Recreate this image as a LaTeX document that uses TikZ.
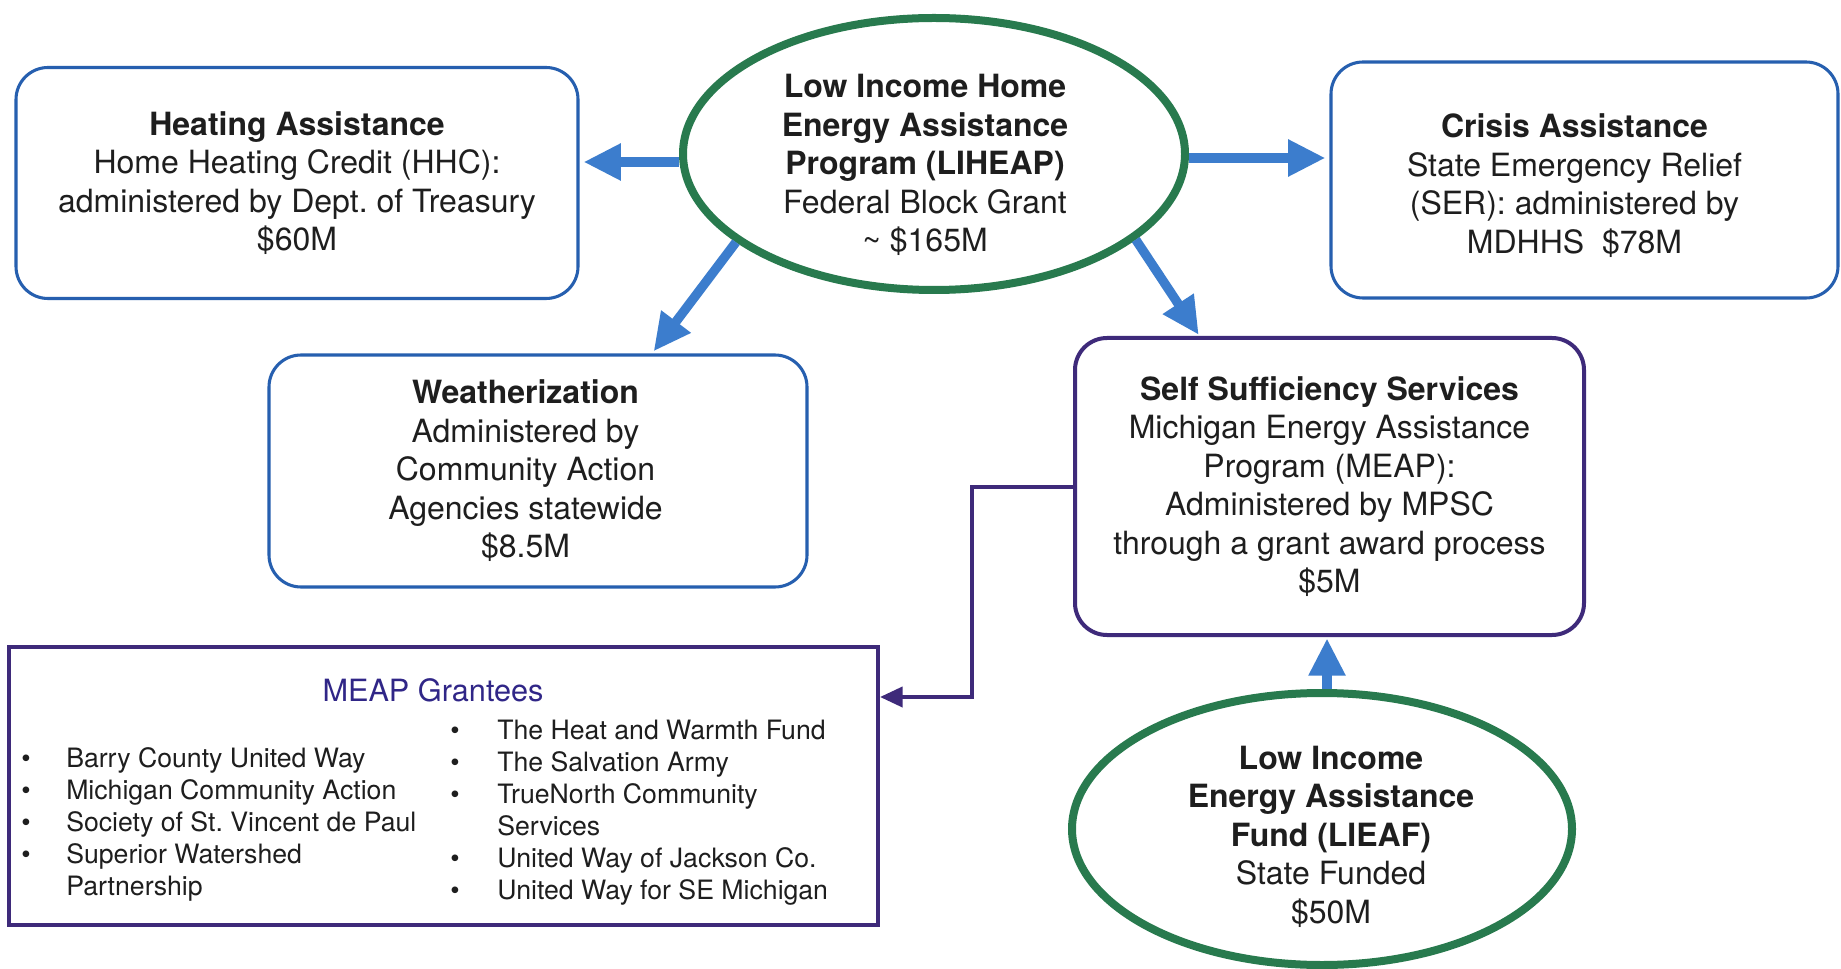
\documentclass[tikz,border=0pt]{standalone}
\usepackage{fontspec}
\setmainfont{TeX Gyre Heros}
\usetikzlibrary{shapes.geometric,arrows.meta}
\definecolor{boxblue}{RGB}{38,95,175}
\definecolor{arrblue}{RGB}{60,125,205}
\definecolor{grn}{RGB}{40,122,78}
\definecolor{purp}{RGB}{62,42,122}
\definecolor{titlepurp}{RGB}{48,38,135}
\definecolor{txt}{RGB}{30,30,30}
\newcommand{\lowerby}[1]{\rule{0pt}{#1}}
\newcommand{\shiftL}[2]{\mbox{#2\hspace{#1}}}
\newcommand{\shiftR}[2]{\mbox{\hspace{#1}#2}}
\frenchspacing
\begin{document}
\begin{tikzpicture}[x=0.75pt,y=-0.75pt,
  mainfont/.style={font=\fontsize{24}{28.9}\selectfont},
  bbox/.style={draw=boxblue,line width=2.3pt,rounded corners=24pt,align=center,mainfont,inner sep=0pt,text=txt},
  pbox/.style={bbox,draw=purp,line width=3pt},
  ell/.style={ellipse,draw=grn,line width=6pt,align=center,mainfont,inner xsep=0pt,inner ysep=-12pt,text=txt},
  arr/.style={draw=arrblue,line width=7pt,-{Triangle[length=28pt,width=26pt]}},
  parr/.style={draw=purp,line width=3pt,-{Triangle[length=17pt,width=15pt]}},
  listfont/.style={font=\fontsize{20}{24}\selectfont,text=txt,inner sep=0pt,anchor=base west},
]
\useasboundingbox[fill=white] (0,0) rectangle (1841,969);

\node[bbox,minimum width=421.5pt,minimum height=173.25pt] (heat) at (297,183)
  {\textbf{Heating Assistance}\\Home Heating Credit (HHC):\\administered by Dept.\ of Treasury\\\$60M};
\node[bbox,minimum width=380.25pt,minimum height=177pt] (crisis) at (1584.5,180)
  {\lowerby{26pt}\shiftL{15pt}{\textbf{Crisis Assistance}}\\\shiftL{15pt}{State Emergency Relief}\\\shiftL{15pt}{(SER): administered by}\\\shiftL{15pt}{MDHHS\ \ \$78M}};
\node[bbox,minimum width=403.5pt,minimum height=174pt] (weath) at (538,471)
  {\shiftL{18.75pt}{\textbf{Weatherization}}\\\shiftL{18.75pt}{Administered by}\\\shiftL{18.75pt}{Community Action}\\\shiftL{18.75pt}{Agencies statewide}\\\shiftL{18.75pt}{\$8.5M}};
\node[pbox,minimum width=381.75pt,minimum height=222.75pt] (self) at (1329.5,486.5)
  {\textbf{Self Sufficiency Services}\\Michigan Energy Assistance\\Program (MEAP):\\Administered by MPSC\\through a grant award process\\\$5M};
\node[ell,minimum width=376.5pt,minimum height=204pt] (lih) at (934,154)
  {\lowerby{34pt}\shiftL{13.5pt}{\textbf{Low Income Home}}\\\shiftL{13.5pt}{\textbf{Energy Assistance}}\\\shiftL{13.5pt}{\textbf{Program (LIHEAP)}}\\\shiftL{13.5pt}{Federal Block Grant}\\\shiftL{13.5pt}{\textasciitilde\ \$165M}};
\node[ell,minimum width=375pt,minimum height=204pt] (lief) at (1322,829)
  {\lowerby{29pt}\shiftR{13.5pt}{\textbf{Low Income}}\\\shiftR{13.5pt}{\textbf{Energy Assistance}}\\\shiftR{13.5pt}{\textbf{Fund (LIEAF)}}\\\shiftR{13.5pt}{State Funded}\\\shiftR{13.5pt}{\$50M}};

\node[draw=purp,line width=3pt,minimum width=651.75pt,minimum height=208.5pt,inner sep=0pt] (grant) at (443.5,786) {};
\node[text=titlepurp,font=\fontsize{23}{27}\selectfont,inner sep=0pt] (gtitle) at (433,690) {MEAP Grantees};
\node[listfont] (gleft) at (21,767) {\begin{tabular}[t]{@{}p{33.75pt}@{}l@{}}
  •&Barry County United Way\\
  •&Michigan Community Action\\
  •&Society of St.\ Vincent de Paul\\
  •&Superior Watershed\\
   &Partnership
  \end{tabular}};
\node[listfont] (gright) at (450,739) {\begin{tabular}[t]{@{}p{35.25pt}@{}l@{}}
  •&The Heat and Warmth Fund\\
  •&The Salvation Army\\
  •&TrueNorth Community\\
   &Services\\
  •&United Way of Jackson Co.\\
  •&United Way for SE Michigan
  \end{tabular}};

\draw[arr,shorten >=3pt] ([yshift=-6pt]lih.west) -- ([yshift=-6pt]lih.west -| heat.east);
\draw[arr,shorten >=3pt] ([yshift=-3pt]lih.east) -- ([yshift=-3pt]lih.east -| crisis.west);
\draw[arr,shorten >=2pt] (lih.204) -- ([xshift=85.5pt]weath.north);
\draw[arr,shorten >=1pt] (lih.337) -- ([xshift=-97.5pt]self.north);
\draw[arr,shorten >=1pt] ([xshift=3.75pt]lief.north) -- ([xshift=3.75pt]lief.north |- self.south);
\draw[parr] (self.west) -- ++(-101,0) |- ([yshift=66.75pt]grant.east);
\end{tikzpicture}
\end{document}
